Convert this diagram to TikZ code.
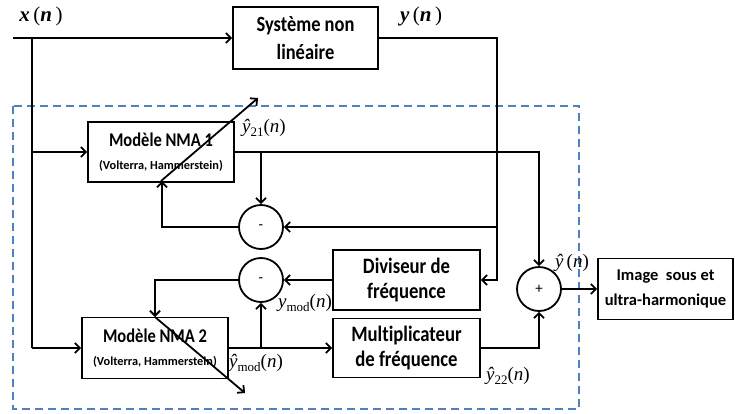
\documentclass[tikz,border=0pt]{standalone}
\usepackage{fontspec}
\setmainfont{Carlito}[Ligatures=NoCommon]
\newfontfamily\boxfont{Carlito}[FakeStretch=0.85,Ligatures=NoCommon]
\newfontfamily\tnr{Liberation Serif}
\usetikzlibrary{arrows.meta}
\definecolor{dashblue}{RGB}{79,129,189}
\newcommand{\yh}[1]{{\tnr\itshape ŷ}{\tnr\raisebox{-0.5ex}{\fontsize{13}{13}\selectfont #1}}{\tnr(\itshape n\/\upshape)}}
\begin{document}
\begin{tikzpicture}[x=1pt,y=-1pt,
  line width=1.8pt,
  >={Straight Barb[length=5pt,width=10pt]},
  blk/.style={draw,rectangle,inner sep=0pt,align=center,font=\boxfont\bfseries\fontsize{22}{25}\selectfont},
  sumc/.style={draw,circle,minimum size=44pt,inner sep=0pt,font=\fontsize{15}{15}\selectfont},
  lab/.style={inner sep=0pt,font=\fontsize{19}{19}\selectfont}]
\useasboundingbox (0,0) rectangle (735,413);
\draw[dashblue,line width=1.8pt,dash pattern=on 8pt off 5pt] (13,106) rectangle (579,409);

\node[blk,minimum width=145pt,minimum height=62pt,font=\boxfont\bfseries\fontsize{21.7}{28}\selectfont] (sys) at (305.5,38) {Système non\\linéaire};
\node[blk,minimum width=146pt,minimum height=60pt,font=\boxfont\bfseries\fontsize{19.4}{24}\selectfont] (nma1) at (161,152) {Modèle NMA 1\\[-1pt]{\rmfamily\bfseries\fontsize{12.3}{12}\selectfont(Volterra, Hammerstein)}};
\node[blk,minimum width=146pt,minimum height=61pt,font=\boxfont\bfseries\fontsize{19.4}{24}\selectfont] (nma2) at (155,348) {Modèle NMA 2\\[-1pt]{\rmfamily\bfseries\fontsize{12.3}{12}\selectfont(Volterra, Hammerstein)}};
\node[blk,minimum width=147pt,minimum height=60pt] (div) at (406.5,280) {Diviseur de\\fréquence};
\node[blk,minimum width=147pt,minimum height=59pt] (mul) at (406.5,348) {Multiplicateur\\de fréquence};
\node[blk,minimum width=135pt,minimum height=61pt,font=\rmfamily\bfseries\fontsize{16.5}{25}\selectfont] (img) at (665.5,289) {Image~ sous et\\ultra-harmonique};
\node[sumc] (c1) at (261,227) {-};
\node[sumc] (c2) at (261,280) {-};
\node[sumc] (sum) at (539,289) {+};

\coordinate (xin) at (13,38);
\coordinate (j0) at (32,38);
\coordinate (j1) at (32,152);
\coordinate (j2) at (32,348);
\coordinate (ya) at (497,38);
\coordinate (yb) at (497,227);
\coordinate (yc) at (497,280);
\coordinate (n1a) at (261,152);
\coordinate (n1b) at (539,152);
\coordinate (fb1) at (162,227);
\coordinate (fb1t) at (162,181);
\coordinate (fb2) at (155,280);
\coordinate (fb2t) at (155,317);
\coordinate (n2a) at (261,348);
\coordinate (m1) at (539,348);
\coordinate (d1s) at (161,181);
\coordinate (d1e) at (258,98);
\coordinate (d2s) at (155,317);
\coordinate (d2e) at (245,393);

\draw[->] (xin) -- (sys.west);
\draw (j0) -- (j2);
\draw[->] (j1) -- (nma1.west);
\draw[->] (j2) -- (nma2.west);
\draw[->] (sys.east) -- (ya) -- (yc) -- (div.east);
\draw[->] (yb) -- (c1.east);
\draw[->] (nma1.east) -- (n1b) -- (sum.north);
\draw[->] (n1a) -- (c1.north);
\draw[->] (c1.west) -- (fb1) -- (fb1t);
\draw[->] (d1s) -- (d1e);
\draw[->] (div.west) -- (c2.east);
\draw[->] (c2.west) -- (fb2) -- (fb2t);
\draw[->] (d2s) -- (d2e);
\draw[->] (nma2.east) -- (mul.west);
\draw[->] (n2a) -- (c2.south);
\draw[->] (mul.east) -- (m1) -- (sum.south);
\draw[->] (sum.east) -- (img.west);

\node[lab,font=\fontsize{21}{21}\selectfont] (lx) at (41,16) {{\tnr\bfseries\itshape x}\,{\tnr(\bfseries\itshape n\/\upshape\mdseries\,)}};
\node[lab,font=\fontsize{21}{21}\selectfont] (ly) at (421,16) {{\tnr\bfseries\itshape y}\,{\tnr(\bfseries\itshape n\/\upshape\mdseries\,)}};
\node[lab] (l21) at (264,128) {\yh{21}};
\node[lab] (lym) at (305,303) {{\tnr\itshape y}{\tnr\raisebox{-0.5ex}{\fontsize{13}{13}\selectfont mod}}{\tnr(\itshape n\/\upshape)}};
\node[lab] (lyhm) at (256,363) {\yh{mod}};
\node[lab] (l22) at (508,376) {\yh{22}};
\node[lab] (lyh) at (572,263) {{\tnr\itshape ŷ}\,{\tnr(\itshape n\/\upshape)}};
\end{tikzpicture}
\end{document}
